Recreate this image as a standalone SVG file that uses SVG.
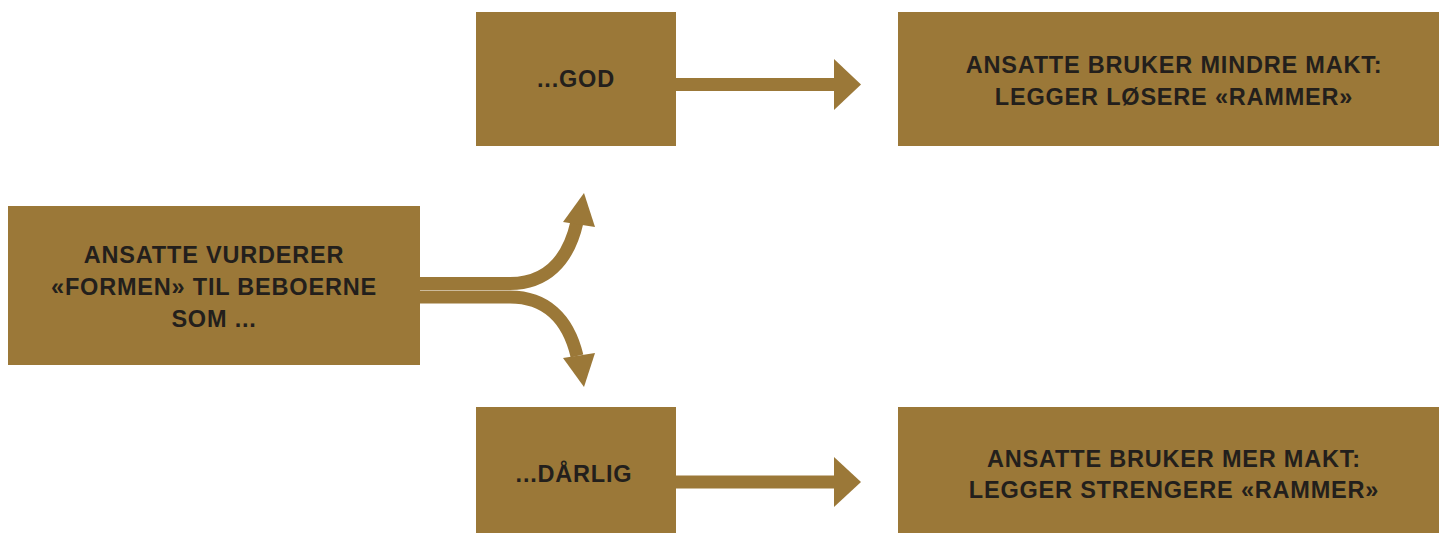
<svg xmlns="http://www.w3.org/2000/svg" width="1439" height="533" viewBox="0 0 1439 533">
<style>
.box{fill:#9b7838}
.t{font-family:"Liberation Sans",Arial,sans-serif;font-weight:bold;font-size:23.5px;letter-spacing:0.8px;fill:#231f1c;text-anchor:middle}
.ln{fill:none;stroke:#9b7838;stroke-width:13}
.hd{fill:#9b7838}
</style>
<rect width="1439" height="533" fill="#ffffff"/>
<g id="connectors">
<path class="ln" d="M676,84.5 L836,84.5"/>
<polygon class="hd" points="834,59 861,84.5 834,110"/>
<path class="ln" d="M676,482 L836,482"/>
<polygon class="hd" points="834,457 861,482 834,507"/>
<path class="ln" d="M418,283.5 L510,283.5 C545,283.5 568,262 577,222"/>
<polygon class="hd" points="584,193 563,222 595,227"/>
<path class="ln" d="M418,297 L510,297 C545,297 568,318 577,356"/>
<polygon class="hd" points="584,387 563,358 595,353"/>
</g>
<g id="start">
<rect class="box" x="8" y="206" width="412" height="159"/>
<text class="t" x="214" y="263">ANSATTE VURDERER</text>
<text class="t" x="214" y="295">«FORMEN» TIL BEBOERNE</text>
<text class="t" x="214" y="327">SOM ...</text>
</g>
<g id="god">
<rect class="box" x="476" y="12" width="200" height="134"/>
<text class="t" x="576" y="87">...GOD</text>
</g>
<g id="darlig">
<rect class="box" x="476" y="407" width="200" height="126"/>
<text class="t" x="574" y="482">...DÅRLIG</text>
</g>
<g id="mindre">
<rect class="box" x="898" y="12" width="541" height="134"/>
<text class="t" x="1174" y="73">ANSATTE BRUKER MINDRE MAKT:</text>
<text class="t" x="1174" y="105">LEGGER LØSERE «RAMMER»</text>
</g>
<g id="mer">
<rect class="box" x="898" y="407" width="541" height="126"/>
<text class="t" x="1174" y="467">ANSATTE BRUKER MER MAKT:</text>
<text class="t" x="1174" y="498">LEGGER STRENGERE «RAMMER»</text>
</g>
</svg>
